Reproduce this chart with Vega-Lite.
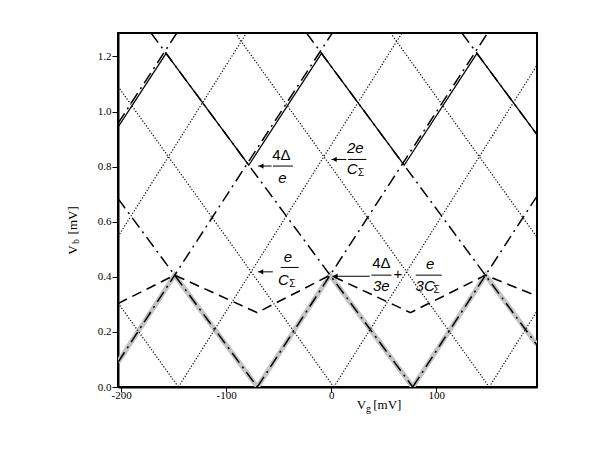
{
  "$schema": "https://vega.github.io/schema/vega-lite/v6.json",
  "autosize": {"type": "none"},
  "padding": {"left": 118, "top": 33, "right": 63, "bottom": 63},
  "width": 419,
  "height": 354,
  "background": "white",
  "config": {
    "view": {"stroke": "black", "strokeWidth": 2},
    "axis": {"grid": false, "domainColor": "black", "domainWidth": 2, "tickColor": "black", "tickWidth": 1, "labelColor": "black", "labelFont": "Liberation Serif", "labelFontSize": 11, "labelFlush": false, "labelOverlap": false}
  },
  "datasets": {
    "lines": [
      {"series": "dotted", "line": "d1", "x": -203, "y": 0.546}, {"series": "dotted", "line": "d1", "x": -80.6, "y": 1.285},
      {"series": "dotted", "line": "d2", "x": -145.5, "y": 0}, {"series": "dotted", "line": "d2", "x": 67.4, "y": 1.285},
      {"series": "dotted", "line": "d3", "x": 2.5, "y": 0}, {"series": "dotted", "line": "d3", "x": 196, "y": 1.168},
      {"series": "dotted", "line": "d4", "x": 150.5, "y": 0}, {"series": "dotted", "line": "d4", "x": 196, "y": 0.275},
      {"series": "dotted", "line": "d5", "x": -203, "y": 0.305}, {"series": "dotted", "line": "d5", "x": -145.5, "y": 0},
      {"series": "dotted", "line": "d6", "x": -203, "y": 1.091}, {"series": "dotted", "line": "d6", "x": 2.5, "y": 0},
      {"series": "dotted", "line": "d7", "x": -91.4, "y": 1.285}, {"series": "dotted", "line": "d7", "x": 150.5, "y": 0},
      {"series": "dotted", "line": "d8", "x": 56.6, "y": 1.285}, {"series": "dotted", "line": "d8", "x": 196, "y": 0.544},
      {"series": "dashdot", "line": "r1", "x": -203, "y": 0.957}, {"series": "dashdot", "line": "r1", "x": -147, "y": 1.285},
      {"series": "dashdot", "line": "r2", "x": -203, "y": 0.0897}, {"series": "dashdot", "line": "r2", "x": 1.0, "y": 1.285},
      {"series": "dashdot", "line": "r3", "x": -70.3, "y": 0}, {"series": "dashdot", "line": "r3", "x": 149, "y": 1.285},
      {"series": "dashdot", "line": "r4", "x": 77.7, "y": 0}, {"series": "dashdot", "line": "r4", "x": 196, "y": 0.693},
      {"series": "dashdot", "line": "f1", "x": -203, "y": 0.684}, {"series": "dashdot", "line": "f1", "x": -70.3, "y": 0},
      {"series": "dashdot", "line": "f2", "x": -171.5, "y": 1.285}, {"series": "dashdot", "line": "f2", "x": 77.7, "y": 0},
      {"series": "dashdot", "line": "f3", "x": -23.5, "y": 1.285}, {"series": "dashdot", "line": "f3", "x": 196, "y": 0.152},
      {"series": "dashdot", "line": "f4", "x": 124.5, "y": 1.285}, {"series": "dashdot", "line": "f4", "x": 196, "y": 0.916},
      {"series": "gray", "line": "g", "x": -203, "y": 0.0897}, {"series": "gray", "line": "g", "x": -149, "y": 0.406},
      {"series": "gray", "line": "g", "x": -70.3, "y": 0}, {"series": "gray", "line": "g", "x": -1.0, "y": 0.406},
      {"series": "gray", "line": "g", "x": 77.7, "y": 0}, {"series": "gray", "line": "g", "x": 147, "y": 0.406},
      {"series": "gray", "line": "g", "x": 196, "y": 0.153},
      {"series": "solid", "line": "s", "x": -203, "y": 0.943}, {"series": "solid", "line": "s", "x": -157.2, "y": 1.211},
      {"series": "solid", "line": "s", "x": -78.5, "y": 0.805}, {"series": "solid", "line": "s", "x": -9.2, "y": 1.211},
      {"series": "solid", "line": "s", "x": 69.5, "y": 0.805}, {"series": "solid", "line": "s", "x": 138.8, "y": 1.211},
      {"series": "solid", "line": "s", "x": 196, "y": 0.916},
      {"series": "dashed", "line": "h", "x": -203, "y": 0.303}, {"series": "dashed", "line": "h", "x": -149, "y": 0.406},
      {"series": "dashed", "line": "h", "x": -70.5, "y": 0.27}, {"series": "dashed", "line": "h", "x": -1.0, "y": 0.406},
      {"series": "dashed", "line": "h", "x": 75.5, "y": 0.27}, {"series": "dashed", "line": "h", "x": 147, "y": 0.406},
      {"series": "dashed", "line": "h", "x": 196, "y": 0.33}
    ],
    "labels": [
      {"t": "4Δ", "x": -47.4, "y": 0.841, "k": "up"},
      {"t": "e", "x": -46.5, "y": 0.757, "k": "it"},
      {"t": "2e", "x": 23.0, "y": 0.866, "k": "it"},
      {"t": "C", "x": 20.0, "y": 0.793, "k": "it"},
      {"t": "Σ", "x": 28.6, "y": 0.778, "k": "sub"},
      {"t": "e", "x": -41.2, "y": 0.472, "k": "it"},
      {"t": "C", "x": -45.5, "y": 0.388, "k": "it"},
      {"t": "Σ", "x": -37.0, "y": 0.373, "k": "sub"},
      {"t": "4Δ", "x": 47.8, "y": 0.449, "k": "up"},
      {"t": "3e", "x": 47.8, "y": 0.366, "k": "it"},
      {"t": "+", "x": 63.6, "y": 0.41, "k": "up"},
      {"t": "e", "x": 94.3, "y": 0.445, "k": "it"},
      {"t": "3C", "x": 89.5, "y": 0.366, "k": "it"},
      {"t": "Σ", "x": 100.5, "y": 0.351, "k": "sub"}
    ],
    "bars": [
      {"x": -55.4, "x2": -36.4, "y": 0.802},
      {"x": 16.0, "x2": 33.5, "y": 0.826},
      {"x": -48.1, "x2": -31.0, "y": 0.434},
      {"x": 38.3, "x2": 57.4, "y": 0.406},
      {"x": 80.5, "x2": 105.2, "y": 0.406}
    ],
    "arrows": [
      {"x": -69.5, "x2": -56.7, "y": 0.802},
      {"x": 0.2, "x2": 14.5, "y": 0.826},
      {"x": -69.8, "x2": -55.5, "y": 0.418},
      {"x": 1.1, "x2": 36.7, "y": 0.402}
    ],
    "titles": [
      {"t": "V", "x": 28.8, "y": -0.065, "k": "main"},
      {"t": "g", "x": 35.6, "y": -0.079, "k": "sub"},
      {"t": "[mV]", "x": 53.5, "y": -0.065, "k": "main"}
    ],
    "ytitles": [
      {"t": "V", "x": -246.2, "y": 0.497, "k": "main"},
      {"t": "b", "x": -243.2, "y": 0.528, "k": "sub"},
      {"t": "[mV]", "x": -246.2, "y": 0.605, "k": "main"}
    ]
  },
  "encoding": {
    "x": {"field": "x", "type": "quantitative", "scale": {"domain": [-203, 196], "nice": false, "zero": false},
      "axis": {"values": [-200, -100, 0, 100], "title": null, "labelExpr": "datum.value", "tickSize": 5, "labelPadding": -3}},
    "y": {"field": "y", "type": "quantitative", "scale": {"domain": [0, 1.285], "nice": false, "zero": false},
      "axis": {"values": [0, 0.2, 0.4, 0.6, 0.8, 1.0, 1.2], "format": ".1f", "title": null, "tickSize": 6, "labelPadding": 1}}
  },
  "layer": [
    {"data": {"name": "lines"}, "transform": [{"filter": "datum.series === 'gray'"}],
      "mark": {"type": "line", "color": "#c4c4c4", "strokeWidth": 5, "clip": true},
      "encoding": {"detail": {"field": "line"}}},
    {"data": {"name": "lines"}, "transform": [{"filter": "datum.series === 'dotted'"}],
      "mark": {"type": "line", "color": "black", "strokeWidth": 1.2, "strokeDash": [1.2, 1.8], "clip": true},
      "encoding": {"detail": {"field": "line"}}},
    {"data": {"name": "lines"}, "transform": [{"filter": "datum.series === 'dashed'"}],
      "mark": {"type": "line", "color": "black", "strokeWidth": 1.6, "strokeDash": [10, 6], "clip": true},
      "encoding": {"detail": {"field": "line"}}},
    {"data": {"name": "lines"}, "transform": [{"filter": "datum.series === 'dashdot'"}],
      "mark": {"type": "line", "color": "black", "strokeWidth": 1.5, "strokeDash": [12, 5, 2, 5], "clip": true},
      "encoding": {"detail": {"field": "line"}}},
    {"data": {"name": "lines"}, "transform": [{"filter": "datum.series === 'solid'"}],
      "mark": {"type": "line", "color": "black", "strokeWidth": 1.3, "clip": true},
      "encoding": {"detail": {"field": "line"}}},
    {"data": {"name": "bars"}, "mark": {"type": "rule", "color": "black", "strokeWidth": 1},
      "encoding": {"x2": {"field": "x2"}}},
    {"data": {"name": "arrows"}, "mark": {"type": "rule", "color": "black", "strokeWidth": 1},
      "encoding": {"x2": {"field": "x2"}}},
    {"data": {"name": "arrows"}, "mark": {"type": "point", "shape": "triangle-left", "filled": true, "color": "black", "size": 28, "opacity": 1, "xOffset": 3}},
    {"data": {"name": "labels"}, "transform": [{"filter": "datum.k === 'up'"}],
      "mark": {"type": "text", "font": "Liberation Sans", "fontSize": 15, "align": "center", "baseline": "middle", "color": "black"},
      "encoding": {"text": {"field": "t"}}},
    {"data": {"name": "labels"}, "transform": [{"filter": "datum.k === 'it'"}],
      "mark": {"type": "text", "font": "Liberation Sans", "fontStyle": "italic", "fontSize": 15, "align": "center", "baseline": "middle", "color": "black"},
      "encoding": {"text": {"field": "t"}}},
    {"data": {"name": "labels"}, "transform": [{"filter": "datum.k === 'sub'"}],
      "mark": {"type": "text", "font": "Liberation Sans", "fontSize": 10, "align": "center", "baseline": "middle", "color": "black"},
      "encoding": {"text": {"field": "t"}}},
    {"data": {"name": "titles"}, "transform": [{"filter": "datum.k === 'main'"}],
      "mark": {"type": "text", "font": "Liberation Serif", "fontSize": 13, "align": "center", "baseline": "middle", "color": "black"},
      "encoding": {"text": {"field": "t"}}},
    {"data": {"name": "titles"}, "transform": [{"filter": "datum.k === 'sub'"}],
      "mark": {"type": "text", "font": "Liberation Serif", "fontSize": 10, "align": "center", "baseline": "middle", "color": "black"},
      "encoding": {"text": {"field": "t"}}},
    {"data": {"name": "ytitles"}, "transform": [{"filter": "datum.k === 'main'"}],
      "mark": {"type": "text", "font": "Liberation Serif", "fontSize": 13, "angle": 270, "align": "center", "baseline": "middle", "color": "black"},
      "encoding": {"text": {"field": "t"}}},
    {"data": {"name": "ytitles"}, "transform": [{"filter": "datum.k === 'sub'"}],
      "mark": {"type": "text", "font": "Liberation Serif", "fontSize": 10, "angle": 270, "align": "center", "baseline": "middle", "color": "black"},
      "encoding": {"text": {"field": "t"}}}
  ]
}
